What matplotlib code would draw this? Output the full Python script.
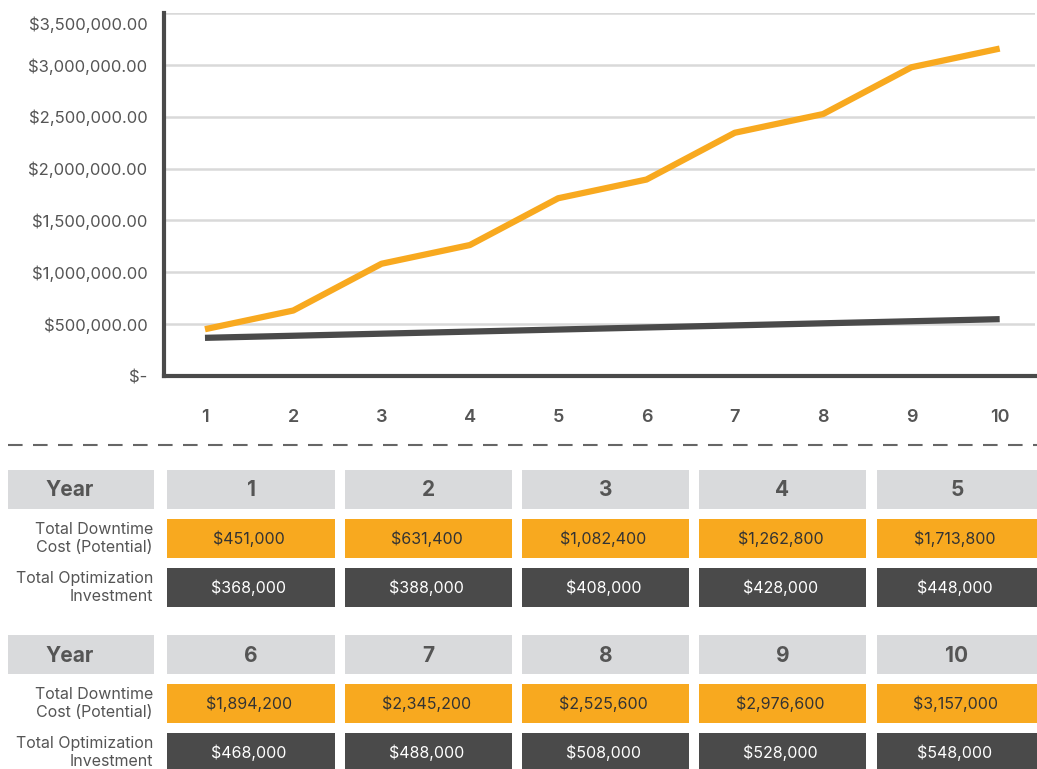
import matplotlib
matplotlib.use("Agg")
import matplotlib.pyplot as plt
from matplotlib.patches import Rectangle
import matplotlib.transforms as mtransforms

plt.rcParams['font.family'] = ['Inter', 'DejaVu Sans']

years = [1, 2, 3, 4, 5, 6, 7, 8, 9, 10]
downtime_cost = [451000, 631400, 1082400, 1262800, 1713800,
                 1894200, 2345200, 2525600, 2976600, 3157000]
optimization_investment = [368000, 388000, 408000, 428000, 448000,
                           468000, 488000, 508000, 528000, 548000]
y_ticks = [0, 500000, 1000000, 1500000, 2000000, 2500000, 3000000, 3500000]
row_labels = ["Total Downtime\nCost (Potential)", "Total Optimization\nInvestment"]

ORANGE = "#F8A91F"
DARK = "#4A4A4A"
GRAY_TXT = "#555555"
HEADER_BG = "#D9DADC"

W, H = 1037, 769
fig = plt.figure(figsize=(W / 100, H / 100), dpi=100)

# ---- line chart ----
ax = fig.add_axes([164 / W, 1 - 376 / H, (1035 - 164) / W, (376 - 13) / H])
ax.plot(years, optimization_investment, color=DARK, lw=4.5, solid_capstyle='butt', zorder=3)
ax.plot(years, downtime_cost, color=ORANGE, lw=4.5, solid_capstyle='butt', zorder=4)
ax.set_xlim(0.536, 10.4)
ax.set_ylim(0, 3500000)
ax.set_yticks(y_ticks)
ylabels = ["$-" if v == 0 else "${:,.2f}".format(v) for v in y_ticks]
ax.set_yticklabels(ylabels, fontsize=12, color=GRAY_TXT)
ax.set_xticks(years)
ax.set_xticklabels([str(y) for y in years], fontsize=13, color=GRAY_TXT, fontweight='semibold')
ax.tick_params(axis='y', length=0, pad=12)
ax.tick_params(axis='x', length=0, pad=24)
ax.grid(axis='y', color="#D9D9D9", lw=1.8)
ax.set_axisbelow(True)
for s in ['top', 'right']:
    ax.spines[s].set_visible(False)
for s in ['left', 'bottom']:
    ax.spines[s].set_color(DARK)
    ax.spines[s].set_linewidth(3)
    ax.spines[s].set_zorder(5)
# shift top tick label down slightly
lbls = ax.get_yticklabels()
offset = mtransforms.ScaledTranslation(0, -10 / 100, fig.dpi_scale_trans)
lbls[-1].set_transform(lbls[-1].get_transform() + offset)

# ---- tables (pixel coordinate overlay) ----
ov = fig.add_axes([0, 0, 1, 1])
ov.set_xlim(0, W)
ov.set_ylim(H, 0)
ov.axis('off')

ov.plot([8, W], [445, 445], color="#666666", lw=1.5, dashes=(7, 5))

col_x = [167, 345, 522, 699, 877]
col_w = [168, 167, 167, 167, 160]

def draw_table(start, y_header, y_or, y_dk):
    hh = 39
    ov.add_patch(Rectangle((8, y_header), 146, hh, color=HEADER_BG, lw=0))
    ov.text(70, y_header + hh / 2 + 1, "Year", ha='center', va='center',
            fontsize=15, fontweight='bold', color=GRAY_TXT)
    ov.text(153, y_or + hh / 2, row_labels[0], ha='right', va='center',
            fontsize=11.5, color=GRAY_TXT, linespacing=1.3)
    ov.text(153, y_dk + hh / 2, row_labels[1], ha='right', va='center',
            fontsize=11.5, color=GRAY_TXT, linespacing=1.3)
    for i in range(5):
        k = start + i
        x, w = col_x[i], col_w[i]
        ov.add_patch(Rectangle((x, y_header), w, hh, color=HEADER_BG, lw=0))
        ov.text(x + w / 2, y_header + hh / 2 + 1, str(years[k]), ha='center', va='center',
                fontsize=15, fontweight='bold', color=GRAY_TXT)
        ov.add_patch(Rectangle((x, y_or), w, hh, color=ORANGE, lw=0))
        ov.text(x + w / 2 - 2, y_or + hh / 2, "${:,}".format(downtime_cost[k]), ha='center',
                va='center', fontsize=11.5, color="#333333")
        ov.add_patch(Rectangle((x, y_dk), w, hh, color=DARK, lw=0))
        ov.text(x + w / 2 - 2, y_dk + hh / 2, "${:,}".format(optimization_investment[k]), ha='center',
                va='center', fontsize=11.5, color="white")

draw_table(0, 470, 519, 568)
draw_table(5, 635, 684, 733)

fig.savefig("out.png", dpi=100)
